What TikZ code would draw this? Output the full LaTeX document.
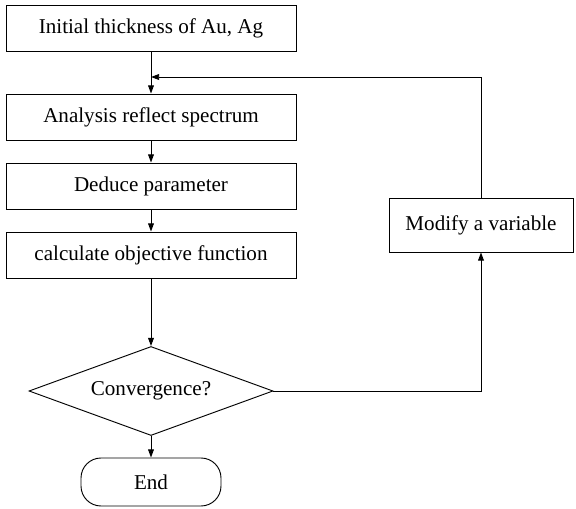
\documentclass[tikz,border=0pt]{standalone}
\usepackage{fontspec}
\setmainfont{Liberation Serif}
\usetikzlibrary{shapes.geometric,arrows.meta}

\tikzset{
  stepbox/.style={rectangle,draw,minimum width=8.7cm,minimum height=1.38cm,inner sep=2pt},
  testbox/.style={diamond,draw,aspect=2.74,minimum width=7.32cm,minimum height=2.67cm,inner sep=0pt},
  endbox/.style={rectangle,draw,rounded corners=0.6cm,minimum width=4.2cm,minimum height=1.44cm}
}

\begin{document}
\begin{tikzpicture}[x=0.03cm,y=-0.03cm,line width=0.8pt,
  >={Triangle[length=7pt,width=5pt]},font=\fontsize{18}{22}\selectfont]
\useasboundingbox (0,0) rectangle (576,509);

\path (151,28) node[stepbox] (init) {Initial thickness of Au, Ag};
\coordinate (join) at (151,77);
\path (151,117) node[stepbox] (analysis) {Analysis reflect spectrum};
\path (151,186) node[stepbox] (deduce) {Deduce parameter};
\path (151,255) node[stepbox] (objective) {calculate objective function};
\path (151,391) node[testbox] (conv) {Convergence?};
\path (151,482) node[endbox] (end) {End};
\path (481,225) node[rectangle,draw,minimum width=5.52cm,minimum height=1.62cm] (modify) {Modify a variable};

\draw (init) -- (join);
\draw[->] (join) -- (analysis);
\draw[->] (analysis) -- (deduce);
\draw[->] (deduce) -- (objective);
\draw[->] (objective) -- (conv);
\draw[->] (conv) -- (end);
\draw[->] (conv.east) -| (modify.south);
\draw[->] (modify.north) |- (join);
\end{tikzpicture}
\end{document}
